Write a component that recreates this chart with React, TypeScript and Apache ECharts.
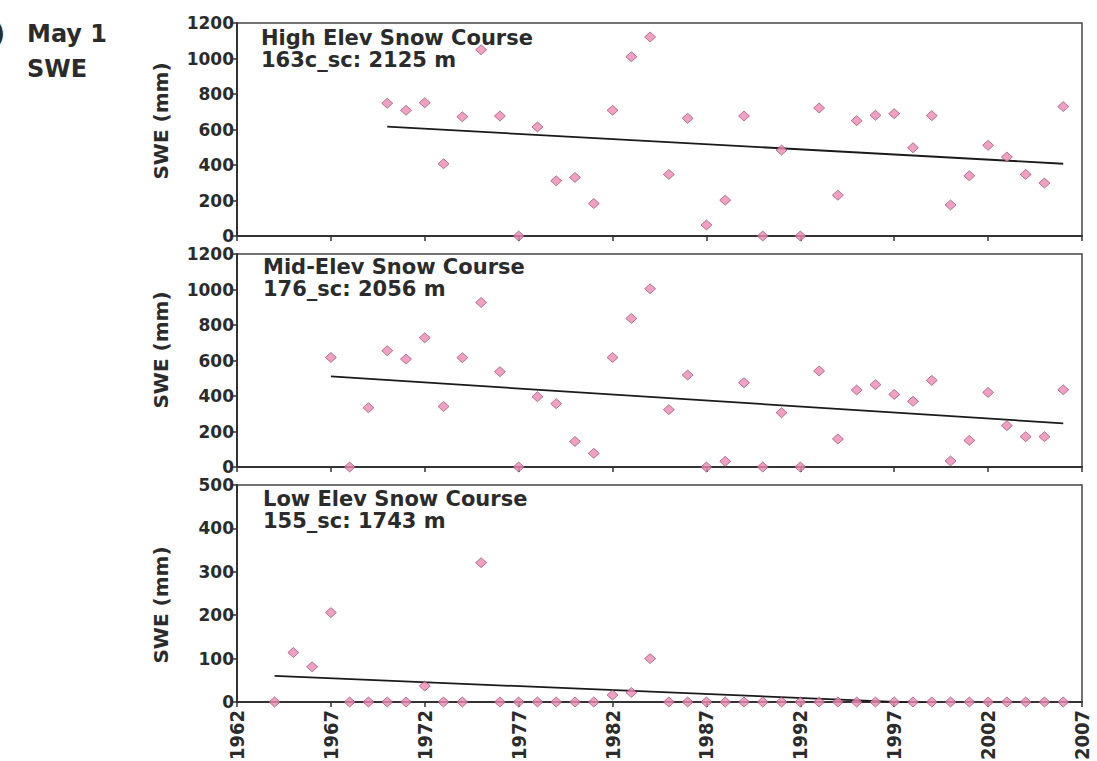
import React, { useEffect, useRef } from "react";
import * as echarts from "echarts";

// ---- Data ----
const highStartYear = 1970;
const highSWE = [748, 708, 751, 407, 672, 1049, 676, 0, 614, 311, 330, 183, 708, 1010, 1121, 347, 663, 62, 202, 676, 0, 484, 0, 721, 230, 650, 680, 689, 497, 678, 175, 339, 511, 445, 347, 298, 729];
const highTrend = [[1970, 616], [2006, 407]];

const midStartYear = 1967;
const midSWE = [617, 0, 334, 655, 608, 728, 341, 616, 927, 537, 0, 396, 357, 144, 77, 617, 837, 1004, 323, 518, 0, 32, 475, 0, 306, 0, 541, 158, 434, 464, 409, 370, 488, 34, 150, 420, 233, 171, 171, 435];
const midTrend = [[1967, 510], [2006, 246]];

const lowStartYear = 1964;
const lowSWE = [0, 114, 81, 206, 0, 0, 0, 0, 37, 0, 0, 321, 0, 0, 0, 0, 0, 0, 16, 22, 100, 0, 0, 0, 0, 0, 0, 0, 0, 0, 0, 0, 0, 0, 0, 0, 0, 0, 0, 0, 0, 0, 0];
const lowTrend = [[1964, 60], [2006, -16]];

const panelTitles = [
  ["High Elev Snow Course", "163c_sc: 2125 m"],
  ["Mid-Elev Snow Course", "176_sc: 2056 m"],
  ["Low Elev Snow Course", "155_sc: 1743 m"],
];
const yMax = [1200, 1200, 500];
const yInterval = [200, 200, 100];
const yAxisTitle = "SWE (mm)";
const xMin = 1962;
const xMax = 2007;
const xInterval = 5;
const headerLines = ["May 1", "SWE"];

const toPairs = (start: number, vals: number[]) => vals.map((v, i) => [start + i, v]);

const FONT = "DejaVu Sans";
const NARROW = '"Liberation Sans Narrow", "DejaVu Sans Condensed", "DejaVu Sans"';
const TEXT = "#2b2b2b";
const AXIS = "#333333";

export default function App() {
  const ref = useRef<HTMLDivElement>(null);
  useEffect(() => {
    if (!ref.current) return;
    const chart = echarts.init(ref.current, undefined, { renderer: "svg" });
    const grids = [
      { left: 237, top: 23, width: 845, height: 213 },
      { left: 237, top: 254, width: 845, height: 213 },
      { left: 237, top: 485, width: 845, height: 217 },
    ];
    const seriesData = [
      toPairs(highStartYear, highSWE),
      toPairs(midStartYear, midSWE),
      toPairs(lowStartYear, lowSWE),
    ];
    const trends = [highTrend, midTrend, lowTrend];
    const titleY = [[38, 60], [267, 289], [499, 521]];
    const titleX = [261, 263, 263];
    const yNameY = [121, 350, 605];

    const series: any[] = [];
    grids.forEach((_, i) => {
      series.push({
        type: "line",
        xAxisIndex: i,
        yAxisIndex: i,
        data: trends[i],
        symbol: "none",
        clip: true,
        lineStyle: { color: "#1a1a1a", width: 1.8 },
        z: 2,
      });
      series.push({
        type: "scatter",
        xAxisIndex: i,
        yAxisIndex: i,
        data: seriesData[i],
        symbol: "diamond",
        symbolSize: [11, 10],
        clip: false,
        itemStyle: { color: "#ee88b4", borderColor: "#874563", borderWidth: 0.8 },
        z: 3,
      });
    });

    const graphics: any[] = [];
    graphics.push({
      type: "text",
      x: 5,
      y: 34,
      style: { text: ")", font: `bold 24px "${FONT}"`, fill: TEXT, align: "right", verticalAlign: "middle" },
    });
    headerLines.forEach((t, k) => {
      graphics.push({
        type: "text",
        x: 27,
        y: 34 + k * 35,
        style: { text: t, font: `bold 24px "${FONT}"`, fill: TEXT, align: "left", verticalAlign: "middle" },
      });
    });
    panelTitles.forEach((lines, i) => {
      lines.forEach((t, k) => {
        graphics.push({
          type: "text",
          x: titleX[i],
          y: titleY[i][k],
          style: { text: t, font: `bold 21px "${FONT}"`, fill: TEXT, align: "left", verticalAlign: "middle" },
          z: 10,
        });
      });
      graphics.push({
        type: "text",
        x: 161,
        y: yNameY[i],
        rotation: Math.PI / 2,
        style: { text: yAxisTitle, font: `bold 20px "${FONT}"`, fill: TEXT, align: "center", verticalAlign: "middle" },
      });
    });

    chart.setOption({
      animation: false,
      backgroundColor: "#ffffff",
      grid: grids.map((g) => ({
        ...g,
        show: true,
        containLabel: false,
        outerBoundsMode: "none",
        borderColor: "#444",
        borderWidth: 1.5,
        backgroundColor: "transparent",
      })),
      xAxis: grids.map((_, i) => ({
        type: "value",
        gridIndex: i,
        min: xMin,
        max: xMax,
        interval: xInterval,
        splitLine: { show: false },
        axisLine: { show: true, onZero: false, lineStyle: { color: AXIS, width: 2 } },
        axisTick: { show: true, inside: false, length: 5, lineStyle: { color: AXIS, width: 1.5 } },
        axisLabel: {
          show: i === 2,
          rotate: 90,
          margin: 8,
          fontFamily: NARROW,
          fontWeight: "bold",
          fontSize: 20,
          lineHeight: 20,
          color: TEXT,
          formatter: (v: number) => String(v),
        },
      })),
      yAxis: grids.map((_, i) => ({
        type: "value",
        gridIndex: i,
        min: 0,
        max: yMax[i],
        interval: yInterval[i],
        splitLine: { show: false },
        axisLine: { show: true, lineStyle: { color: AXIS, width: 2 } },
        axisTick: { show: true, inside: false, length: 4, lineStyle: { color: AXIS, width: 1.5 } },
        axisLabel: {
          margin: 3,
          fontFamily: FONT,
          fontWeight: "bold",
          fontSize: 17,
          lineHeight: 15,
          color: TEXT,
          formatter: (v: number) => String(v),
        },
      })),
      series,
      graphic: graphics,
    });
    return () => chart.dispose();
  }, []);
  return (
    <div
      ref={ref}
      style={{ position: "fixed", left: 0, top: 0, width: 1097, height: 761, background: "#fff" }}
    />
  );
}
